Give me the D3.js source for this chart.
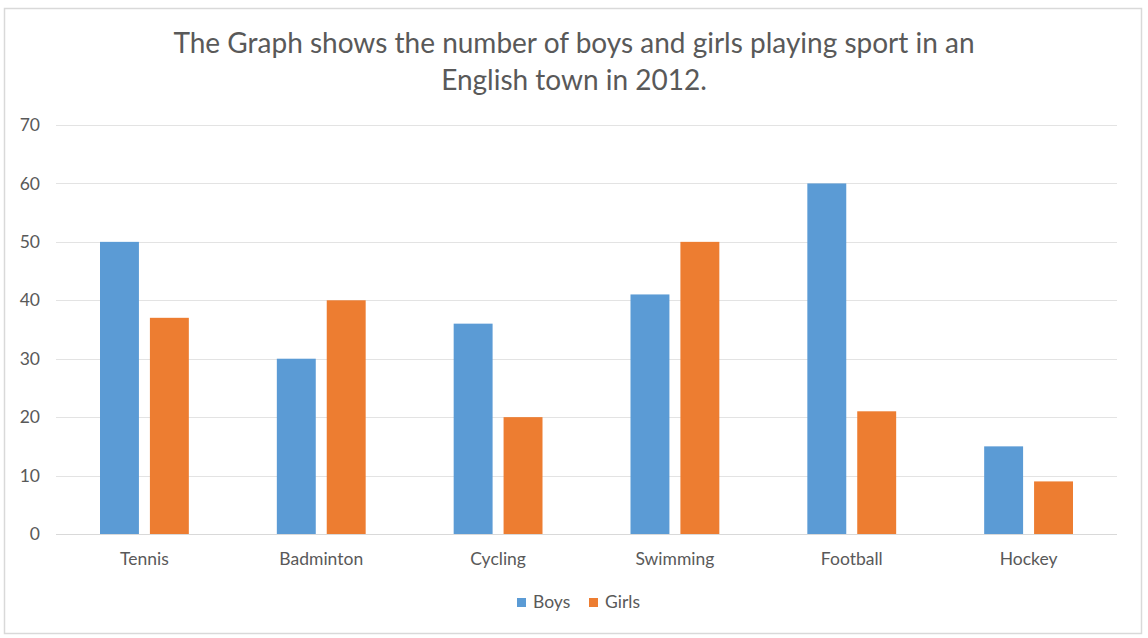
<!DOCTYPE html>
<html>
<head>
<meta charset="utf-8">
<script src="https://cdn.jsdelivr.net/npm/d3@7"></script>
<style>
  html, body { margin: 0; padding: 0; background: #fff; }
  svg { display: block; font-family: Lato, "Open Sans", sans-serif; }
</style>
</head>
<body>
<div id="chart"></div>
<script>
// data
const sports = ['Tennis', 'Badminton', 'Cycling', 'Swimming', 'Football', 'Hockey'];
const boys = [50, 30, 36, 41, 60, 15];
const girls = [37, 40, 20, 50, 21, 9];
const seriesNames = ['Boys', 'Girls'];
const yTicks = [0, 10, 20, 30, 40, 50, 60, 70];
const titleLines = ['The Graph shows the number of boys and girls playing sport in an', 'English town in 2012.'];

const W = 1148, H = 638;
const plot = { left: 56, right: 1117, top: 125, bottom: 534 };
const colors = { Boys: '#5b9bd5', Girls: '#ed7d31' };
const textColor = '#595959';
const labelFont = '17.5px';

const svg = d3.select('#chart').append('svg')
  .attr('width', W).attr('height', H);

// outer frame
svg.append('rect')
  .attr('x', 4.5).attr('y', 8.5)
  .attr('width', 1137).attr('height', 625)
  .attr('fill', '#fff').attr('stroke', '#d9d9d9').attr('stroke-width', 1.5);

// title
svg.append('g').selectAll('text')
  .data(titleLines)
  .join('text')
  .attr('x', 574)
  .attr('y', (d, i) => 53 + i * 37)
  .attr('text-anchor', 'middle')
  .attr('fill', textColor)
  .style('font-size', '28px')
  .text(d => d);

const y = d3.scaleLinear().domain([0, 70]).range([plot.bottom, plot.top]);
const x0 = d3.scaleBand().domain(sports).range([plot.left, plot.right]);
const groupPad = 44;
const x1 = d3.scaleBand().domain(seriesNames)
  .range([groupPad, x0.bandwidth() - groupPad])
  .paddingInner(0.22);

// y labels
const yAxis = d3.axisLeft(y).tickValues(yTicks).tickSize(0).tickPadding(16);
const yG = svg.append('g')
  .attr('transform', `translate(${plot.left},0)`)
  .call(yAxis);
yG.select('.domain').remove();
yG.selectAll('text').attr('fill', textColor).style('font-size', labelFont).style('font-family', 'Lato, "Open Sans", sans-serif');

// gridlines
svg.append('g').selectAll('line')
  .data(yTicks)
  .join('line')
  .attr('x1', plot.left).attr('x2', plot.right)
  .attr('y1', d => Math.round(y(d)) + 0.5).attr('y2', d => Math.round(y(d)) + 0.5)
  .attr('stroke', d => d === 0 ? '#d9d9d9' : '#e3e3e3')
  .attr('stroke-width', 1);

// bars
const rows = sports.map((s, i) => ({ sport: s, Boys: boys[i], Girls: girls[i] }));
const groups = svg.append('g').selectAll('g')
  .data(rows)
  .join('g')
  .attr('transform', d => `translate(${x0(d.sport)},0)`);

groups.selectAll('rect')
  .data(d => seriesNames.map(k => ({ key: k, value: d[k] })))
  .join('rect')
  .attr('x', d => x1(d.key))
  .attr('width', x1.bandwidth())
  .attr('y', d => y(d.value))
  .attr('height', d => y(0) - y(d.value))
  .attr('fill', d => colors[d.key]);

// x labels
const xAxis = d3.axisBottom(x0).tickSize(0).tickPadding(19);
const xG = svg.append('g')
  .attr('transform', `translate(0,${plot.bottom})`)
  .call(xAxis);
xG.select('.domain').remove();
xG.selectAll('text').attr('fill', textColor).style('font-size', labelFont).style('font-family', 'Lato, "Open Sans", sans-serif');

// legend
const legend = svg.append('g').attr('transform', 'translate(517,0)');
const legendX = [0, 72];
const items = legend.selectAll('g')
  .data(seriesNames)
  .join('g')
  .attr('transform', (d, i) => `translate(${legendX[i]},598)`);
items.append('rect')
  .attr('width', 9).attr('height', 9)
  .attr('fill', d => colors[d]);
items.append('text')
  .attr('x', 16).attr('y', 10)
  .attr('fill', textColor)
  .style('font-size', labelFont)
  .text(d => d);
</script>
</body>
</html>
